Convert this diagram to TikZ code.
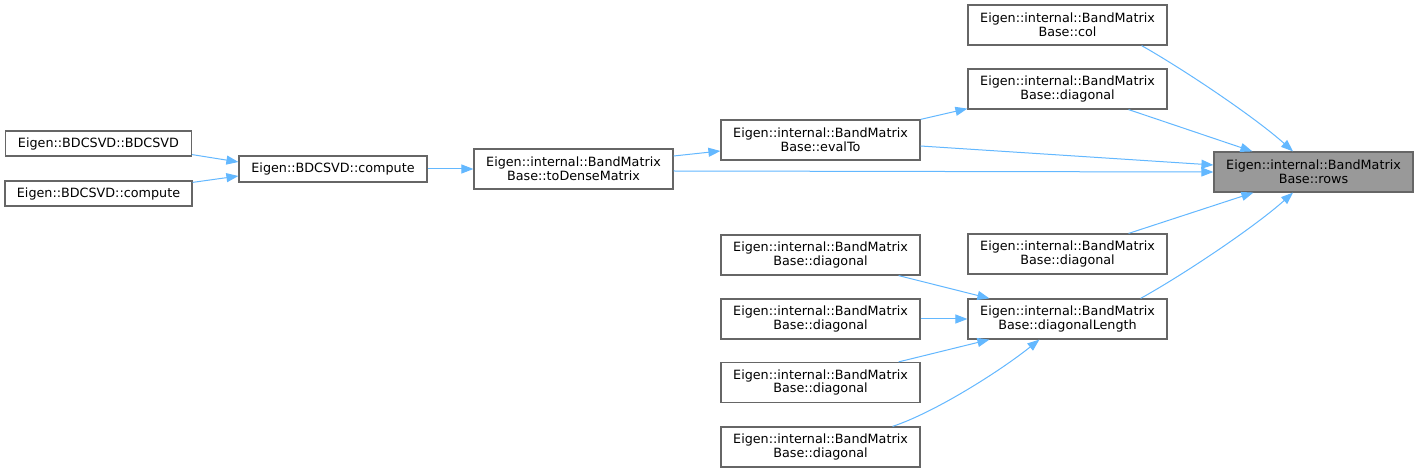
\documentclass[tikz,border=0pt]{standalone}
\usepackage{fontspec}
\setmainfont{DejaVu Sans}
\usetikzlibrary{calc,arrows.meta}
\definecolor{edgec}{HTML}{63B8FF}
\definecolor{bordc}{HTML}{666666}
\definecolor{hilc}{HTML}{999999}
\tikzset{
  fn/.style={draw=bordc, line width=1.2bp, fill=white, inner sep=0pt, align=center,
    font=\fontsize{12.8}{14}\selectfont, text=black, minimum width=199bp, minimum height=40bp},
  fnone/.style={fn, minimum height=25bp},
  hil/.style={fn, fill=hilc},
  edge/.style={draw=edgec, line width=1bp, -{Triangle[length=12bp,width=9bp]}}
}
\begin{document}
\begin{tikzpicture}[x=1bp,y=-1bp]
\useasboundingbox[fill=white] (0,0) rectangle (1419,472);
% nodes
\node[hil] (rows) at (1313.5,172) {Eigen::internal::BandMatrix\\Base::rows};
\node[fn] (col) at (1067.5,25) {Eigen::internal::BandMatrix\\Base::col};
\node[fn] (diagT) at (1067.5,89) {Eigen::internal::BandMatrix\\Base::diagonal};
\node[fn] (evalTo) at (820.5,140) {Eigen::internal::BandMatrix\\Base::evalTo};
\node[fn] (dense) at (573.5,169) {Eigen::internal::BandMatrix\\Base::toDenseMatrix};
\node[fnone, minimum width=188bp, minimum height=26bp] (compute) at (333,169) {Eigen::BDCSVD::compute};
\node[fnone, minimum width=186bp] (bdcsvd) at (98.5,143.5) {Eigen::BDCSVD::BDCSVD};
\node[fnone, minimum width=187bp] (bcompute) at (98.5,193.5) {Eigen::BDCSVD::compute};
\node[fn] (diagM) at (1067.5,254) {Eigen::internal::BandMatrix\\Base::diagonal};
\node[fn] (dlen) at (1067.5,319) {Eigen::internal::BandMatrix\\Base::diagonalLength};
\node[fn] (dL1) at (820.5,255) {Eigen::internal::BandMatrix\\Base::diagonal};
\node[fn] (dL2) at (820.5,319) {Eigen::internal::BandMatrix\\Base::diagonal};
\node[fn] (dL3) at (820.5,382.5) {Eigen::internal::BandMatrix\\Base::diagonal};
\node[fn] (dL4) at (820.5,447) {Eigen::internal::BandMatrix\\Base::diagonal};
% edges
\draw[edge] ($(bdcsvd.south east)+(0,-2)$) -- ($(compute.west)+(0,-7)$);
\draw[edge] ($(bcompute.north east)+(0,2)$) -- ($(compute.west)+(0,7)$);
\draw[edge] (compute.east) -- (dense.west);
\draw[edge] ($(dense.east)+(0,-13)$) -- ($(evalTo.west)+(0,11)$);
\draw[edge] ($(dense.east)+(0,2)$) -- (rows.west);
\draw[edge] (evalTo.north east) -- ($(diagT.south west)+(0,-1)$);
\draw[edge] ($(evalTo.east)+(0,6)$) -- ($(rows.west)+(0,-7)$);
\draw[edge] ($(col.south east)+(-26,0)$) .. controls +(44,25) and +(-38,-34) .. ($(rows.north)+(-20.5,0)$);
\draw[edge] ($(diagT.south east)+(-39,0)$) -- ($(rows.north west)+(39,0)$);
\draw[edge] ($(diagM.north east)+(-39,0)$) -- ($(rows.south west)+(40,0)$);
\draw[edge] ($(dlen.north east)+(-27,0)$) .. controls +(45,-25) and +(-38,34) .. ($(rows.south)+(-20.5,0)$);
\draw[edge] ($(dL1.south east)+(-22,0)$) -- ($(dlen.north west)+(22,0)$);
\draw[edge] (dL2.east) -- (dlen.west);
\draw[edge] ($(dL3.north east)+(-22,0)$) -- ($(dlen.south west)+(22,0)$);
\draw[edge] ($(dL4.north east)+(-28,0)$) .. controls +(42,-14) and +(-40,32) .. ($(dlen.south west)+(72,0)$);
\end{tikzpicture}
\end{document}
